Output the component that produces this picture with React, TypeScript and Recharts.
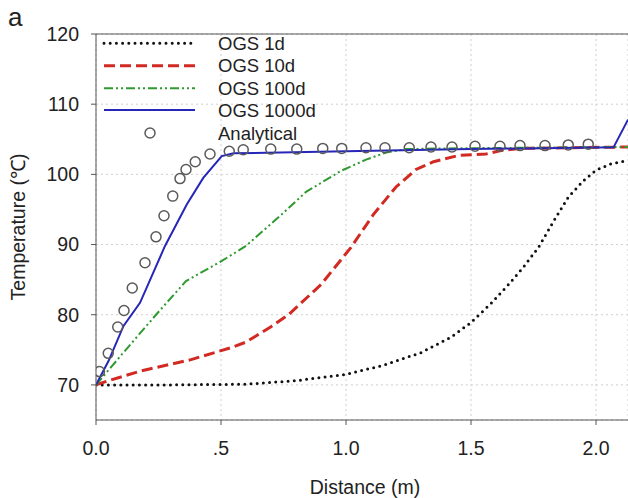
import React from "react";
import {
  ComposedChart,
  Line,
  XAxis,
  YAxis,
  CartesianGrid,
  ReferenceLine,
} from "recharts";

// ---- data ----
const dist1d = [0, 0.3, 0.6, 0.8, 1.0, 1.15, 1.3, 1.42, 1.5, 1.58, 1.65, 1.71, 1.77, 1.83, 1.89, 1.95, 2.0, 2.06, 2.128];
const temp1d = [70, 70.0, 70.1, 70.6, 71.5, 72.8, 74.6, 76.8, 78.9, 81.6, 84.3, 86.8, 89.6, 93.3, 96.8, 99.1, 100.6, 101.5, 102.0];

const dist10d = [0, 0.05, 0.18, 0.38, 0.54, 0.6, 0.7, 0.77, 0.9, 1.02, 1.11, 1.2, 1.28, 1.35, 1.45, 1.56, 1.62, 1.7, 2.128];
const temp10d = [70, 70.6, 72.0, 73.6, 75.3, 76.1, 78.3, 80.0, 84.3, 89.6, 94.3, 98.2, 100.7, 101.8, 102.7, 102.9, 103.4, 103.7, 103.9];

const dist100d = [0, 0.1, 0.24, 0.36, 0.5, 0.6, 0.74, 0.84, 0.98, 1.08, 1.16, 1.24, 1.4, 2.128];
const temp100d = [70, 74.2, 80.0, 84.8, 87.6, 89.8, 94.2, 97.5, 100.5, 102.1, 103.1, 103.6, 103.7, 103.9];

const dist1000d = [0, 0.05, 0.11, 0.176, 0.276, 0.363, 0.429, 0.503, 0.55, 1.0, 1.5, 2.07, 2.128];
const temp1000d = [70, 73.4, 78.4, 81.7, 89.8, 95.7, 99.5, 102.6, 103.0, 103.3, 103.6, 103.85, 107.8];

const distAnalytical = [0.014, 0.049, 0.087, 0.112, 0.145, 0.196, 0.24, 0.272, 0.307, 0.336, 0.36, 0.397, 0.456, 0.533, 0.589, 0.699, 0.803, 0.907, 0.983, 1.08, 1.156, 1.253, 1.34, 1.424, 1.516, 1.616, 1.696, 1.796, 1.889, 1.969];
const tempAnalytical = [71.9, 74.5, 78.25, 80.6, 83.8, 87.4, 91.1, 94.1, 96.9, 99.4, 100.7, 101.8, 102.9, 103.3, 103.5, 103.6, 103.6, 103.7, 103.7, 103.8, 103.8, 103.8, 103.9, 103.9, 104.0, 104.0, 104.1, 104.1, 104.2, 104.3];

const seriesNames = ["OGS 1d", "OGS 10d", "OGS 100d", "OGS 1000d", "Analytical"];
const xTicks = [0, 0.5, 1, 1.5, 2];
const xTickLabels = ["0.0", ".5", "1.0", "1.5", "2.0"];
const yTicks = [70, 80, 90, 100, 110, 120];

const toRows = (xs: number[], ts: number[]) => xs.map((x, i) => ({ x, t: ts[i] }));

const series = [
  { name: seriesNames[0], data: toRows(dist1d, temp1d), stroke: "#111111", width: 3, dash: "0 6.2", cap: "round" },
  { name: seriesNames[1], data: toRows(dist10d, temp10d), stroke: "#d22a22", width: 3, dash: "11 5", cap: "butt" },
  { name: seriesNames[2], data: toRows(dist100d, temp100d), stroke: "#2f9a2f", width: 2, dash: "9 3 2 3 2 3", cap: "butt" },
  { name: seriesNames[3], data: toRows(dist1000d, temp1000d), stroke: "#2626b8", width: 2, dash: undefined, cap: "butt" },
];
const analyticalRows = toRows(distAnalytical, tempAnalytical);

const FONT = '"Liberation Sans", Arial, Helvetica, sans-serif';

const LegendBox = () => {
  const rowY = [11.3, 33.7, 56.3, 78, 101];
  return (
    <svg width={260} height={115} style={{ position: "absolute", left: 96, top: 32, display: "block" }}>
      {series.map((s, i) => (
        <g key={s.name}>
          <line
            x1={8}
            x2={99}
            y1={rowY[i]}
            y2={rowY[i]}
            stroke={s.stroke}
            strokeWidth={s.width}
            strokeDasharray={s.dash}
            strokeLinecap={s.cap as any}
          />
          <text x={122} y={rowY[i]} dy="0.36em" fontSize={18.5} fill="#222" fontFamily={FONT}>
            {s.name}
          </text>
        </g>
      ))}
      <circle cx={54} cy={rowY[4]} r={5} fill="none" stroke="#5a5a5a" strokeWidth={1.5} />
      <text x={122} y={rowY[4]} dy="0.36em" fontSize={18.5} fill="#222" fontFamily={FONT}>
        {seriesNames[4]}
      </text>
    </svg>
  );
};

export default function App() {
  return (
    <div
      style={{
        position: "absolute",
        left: 0,
        top: 0,
        width: 628,
        height: 498,
        background: "#fff",
        fontFamily: FONT,
        overflow: "hidden",
      }}
    >
      <ComposedChart width={628} height={498} margin={{ top: 34, right: 0, left: 0, bottom: 0 }}>
        <CartesianGrid stroke="#cfcfcf" strokeDasharray="2 3" />
        <XAxis
          type="number"
          dataKey="x"
          domain={[0, 2.128]}
          ticks={xTicks}
          tickFormatter={(v: number) => xTickLabels[xTicks.indexOf(v)] ?? String(v)}
          height={78}
          tickSize={5}
          tickMargin={16}
          stroke="#555"
          tick={{ fontSize: 19.5, fill: "#222", fontFamily: FONT }}
          allowDataOverflow
        />
        <YAxis
          type="number"
          domain={[65, 120]}
          ticks={yTicks}
          width={96}
          tickSize={5}
          tickMargin={12}
          stroke="#555"
          tick={{ fontSize: 19.5, fill: "#222", fontFamily: FONT }}
          allowDataOverflow
        />
        <ReferenceLine y={120} stroke="#555" />
        {series.map((s) => (
          <Line
            key={s.name}
            data={s.data}
            dataKey="t"
            name={s.name}
            type="linear"
            stroke={s.stroke}
            strokeWidth={s.width}
            strokeDasharray={s.dash}
            strokeLinecap={s.cap as any}
            dot={false}
            activeDot={false}
            isAnimationActive={false}
          />
        ))}
        <Line
          data={analyticalRows}
          dataKey="t"
          name={seriesNames[4]}
          stroke="none"
          dot={{ r: 5, fill: "none", stroke: "#5a5a5a", strokeWidth: 1.5 }}
          activeDot={false}
          isAnimationActive={false}
        />
      </ComposedChart>
      <LegendBox />
      <div style={{ position: "absolute", left: 8, top: 2, fontSize: 26, color: "#222" }}>a</div>
      <div
        style={{
          position: "absolute",
          left: 17,
          top: 227,
          transform: "translate(-50%, -50%) rotate(-90deg)",
          whiteSpace: "nowrap",
          fontSize: 19.5,
          color: "#222",
        }}
      >
        Temperature (℃)
      </div>
      <div
        style={{
          position: "absolute",
          left: 365,
          top: 487,
          transform: "translate(-50%, -50%)",
          whiteSpace: "nowrap",
          fontSize: 19.5,
          color: "#222",
        }}
      >
        Distance (m)
      </div>
    </div>
  );
}
